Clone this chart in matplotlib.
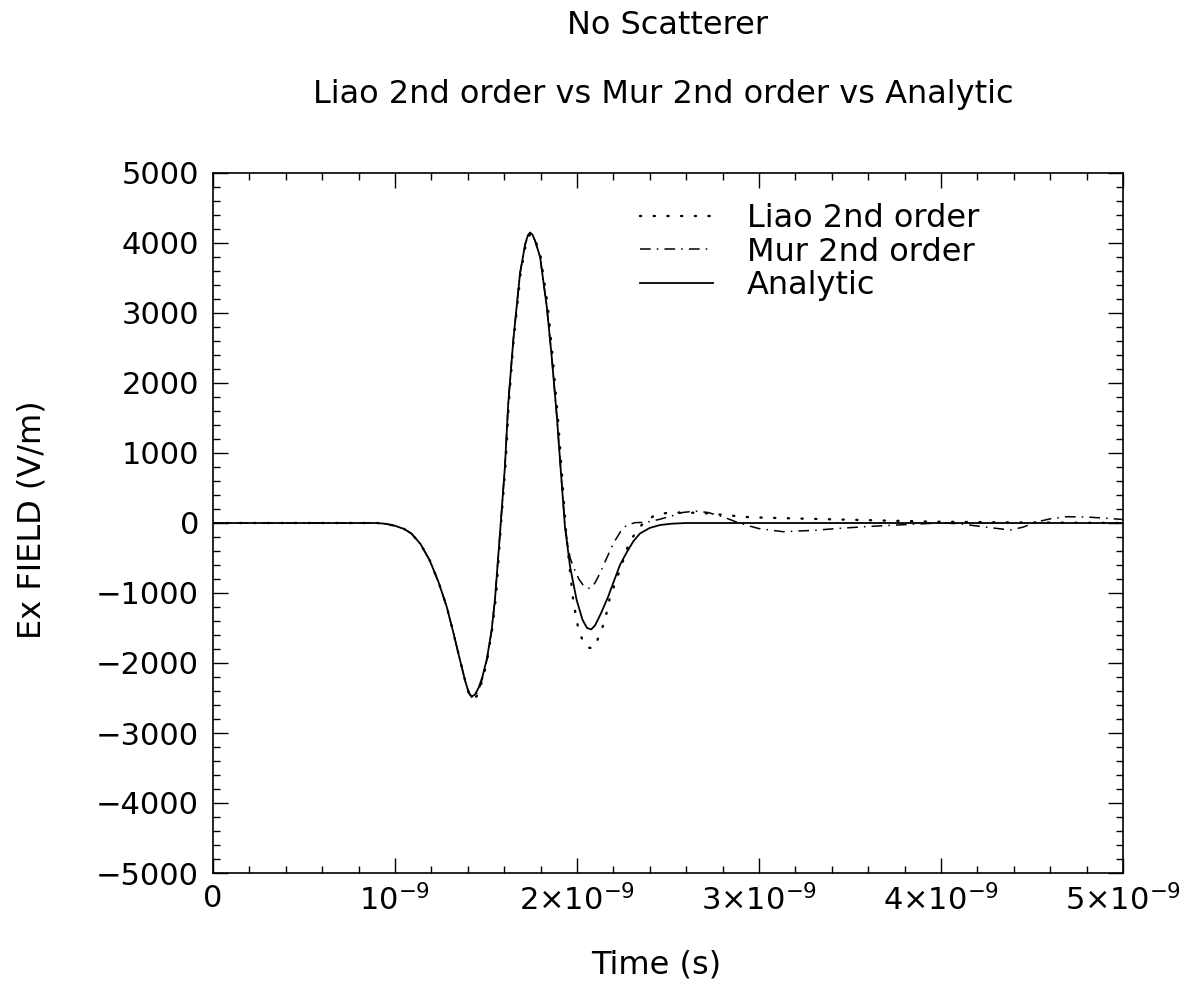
import matplotlib
matplotlib.use("Agg")
import matplotlib.pyplot as plt
import numpy as np

# time in ns, field in V/m
t_analytic = [0.0, 0.9, 0.95, 1.0, 1.05, 1.09, 1.14, 1.19, 1.24, 1.284, 1.32, 1.357,
              1.385, 1.405, 1.421, 1.44, 1.46, 1.48, 1.504, 1.53, 1.549, 1.577, 1.604,
              1.622, 1.65, 1.687, 1.715, 1.73, 1.742, 1.755, 1.77, 1.797, 1.834, 1.861,
              1.89, 1.91, 1.934, 1.962, 1.998, 2.03, 2.055, 2.078, 2.10, 2.13, 2.17,
              2.20, 2.236, 2.273, 2.31, 2.346, 2.40, 2.456, 2.52, 2.6, 5.0]
e_analytic = [0, 0, -12, -40, -85, -150, -300, -529, -850, -1195, -1560, -1957,
              -2250, -2420, -2480, -2450, -2350, -2200, -1950, -1550, -1100, -143, 804,
              1700, 2614, 3567, 3980, 4110, 4150, 4120, 4030, 3804, 3090, 2376,
              1500, 780, -60, -624, -1100, -1380, -1500, -1520, -1460, -1300, -1060,
              -850, -600, -420, -260, -150, -70, -29, -10, 0, 0]

t_mur = [0.0, 0.9, 0.95, 1.0, 1.05, 1.09, 1.14, 1.19, 1.24, 1.284, 1.32, 1.357,
         1.385, 1.405, 1.425, 1.445, 1.465, 1.485, 1.507, 1.53, 1.549, 1.577, 1.604,
         1.622, 1.65, 1.687, 1.715, 1.73, 1.742, 1.755, 1.77, 1.797, 1.834, 1.861,
         1.89, 1.91, 1.934, 1.962, 1.98, 2.01, 2.037, 2.06, 2.08, 2.10, 2.126, 2.16,
         2.20, 2.24, 2.273, 2.32, 2.38, 2.45, 2.52, 2.58, 2.65, 2.72, 2.80, 2.87,
         2.93, 3.0, 3.13, 3.3, 3.45, 3.6, 3.75, 3.87, 4.0, 4.1, 4.25, 4.38, 4.45,
         4.52, 4.6, 4.69, 4.8, 4.9, 5.0]
e_mur = [0, 0, -12, -40, -85, -150, -300, -529, -850, -1195, -1560, -1957,
         -2250, -2430, -2500, -2460, -2350, -2180, -1930, -1550, -1100, -143, 804,
         1700, 2614, 3567, 3980, 4100, 4140, 4110, 4030, 3804, 3090, 2376,
         1500, 780, -50, -500, -624, -800, -900, -935, -925, -850, -719, -520,
         -290, -120, -29, 5, 10, 50, 100, 150, 170, 150, 90, 20,
         -30, -80, -124, -105, -75, -50, -30, -14, 0, -10, -60, -100, -60,
         10, 60, 90, 85, 70, 50]

t_liao = [0.0, 0.9, 0.95, 1.0, 1.05, 1.09, 1.14, 1.19, 1.24, 1.284, 1.32, 1.357,
          1.39, 1.41, 1.43, 1.45, 1.47, 1.49, 1.51, 1.535, 1.555, 1.58, 1.607,
          1.625, 1.652, 1.69, 1.718, 1.733, 1.745, 1.758, 1.775, 1.80, 1.84, 1.866,
          1.895, 1.915, 1.938, 1.962, 1.98, 2.007, 2.035, 2.06, 2.09, 2.123, 2.154,
          2.181, 2.209, 2.245, 2.282, 2.319, 2.364, 2.429, 2.502, 2.60, 2.712, 2.951,
          3.407, 3.956, 4.32, 5.0]
e_liao = [0, 0, -12, -40, -85, -150, -300, -529, -850, -1195, -1560, -1957,
          -2300, -2460, -2520, -2470, -2330, -2150, -1900, -1500, -1050, -100, 820,
          1700, 2614, 3567, 3970, 4090, 4130, 4100, 4010, 3804, 3090, 2376,
          1500, 780, -80, -700, -1124, -1505, -1710, -1780, -1790, -1610, -1386,
          -1062, -862, -600, -314, -148, 0, 114, 148, 150, 138, 81,
          52, 19, 10, 0]

x_ticks = [0, 1, 2, 3, 4, 5]
x_tick_labels = ["0", r"$10^{-9}$", r"$2{\times}10^{-9}$", r"$3{\times}10^{-9}$",
                 r"$4{\times}10^{-9}$", r"$5{\times}10^{-9}$"]
y_ticks = [-5000, -4000, -3000, -2000, -1000, 0, 1000, 2000, 3000, 4000, 5000]
y_tick_labels = ["\u22125000", "\u22124000", "\u22123000", "\u22122000", "\u22121000",
                 "0", "1000", "2000", "3000", "4000", "5000"]

plt.rcParams["font.family"] = ["DejaVu Sans"]
plt.rcParams["mathtext.fontset"] = "dejavusans"

fig = plt.figure(figsize=(12.02, 9.89), dpi=100)
ax = fig.add_axes([213 / 1202, 1 - 873 / 989, 910 / 1202, 700 / 989])

ns = 1e-9
ax.plot(np.array(t_liao) * ns, e_liao, color="black", lw=1.7,
        linestyle=(0, (0.5, 5.3)), dash_capstyle="round", label="Liao 2nd order")
ax.plot(np.array(t_mur) * ns, e_mur, color="black", lw=1.1,
        linestyle=(0, (7, 4, 1, 4)), label="Mur 2nd order")
ax.plot(np.array(t_analytic) * ns, e_analytic, color="black", lw=1.3, label="Analytic")

ax.set_xlim(0, 5e-9)
ax.set_ylim(-5000, 5000)
ax.set_xticks(np.array(x_ticks) * ns)
ax.set_xticklabels(x_tick_labels)
ax.set_xticks(np.arange(0, 5.01, 0.2) * ns, minor=True)
ax.set_yticks(y_ticks)
ax.set_yticklabels(y_tick_labels)
ax.set_yticks(np.arange(-5000, 5001, 200), minor=True)

ax.tick_params(which="both", direction="in", top=True, right=True, width=1.0,
               labelsize=22, color="black")
ax.tick_params(which="major", length=11)
ax.tick_params(which="minor", length=5)
ax.tick_params(axis="x", pad=8)
ax.tick_params(axis="y", pad=10)
for s in ax.spines.values():
    s.set_linewidth(1.2)

ax.legend(loc="upper left", bbox_to_anchor=(640 / 1202, 1 - 203 / 989),
          bbox_transform=fig.transFigure, frameon=False, fontsize=23,
          handlelength=2.3, handletextpad=1.05, labelspacing=0.08, borderpad=0,
          borderaxespad=0)

fig.text(668 / 1202, 1 - 25 / 989, "No Scatterer", ha="center", va="center", fontsize=23)
fig.text(663 / 1202, 1 - 95 / 989, "Liao 2nd order vs Mur 2nd order vs Analytic",
         ha="center", va="center", fontsize=23)
fig.text(656 / 1202, 1 - 965 / 989, "Time (s)", ha="center", va="center", fontsize=23)
fig.text(32 / 1202, 1 - 520 / 989, "Ex FIELD (V/m)", ha="center", va="center",
         rotation=90, fontsize=23)

fig.savefig("out.png", dpi=100)
